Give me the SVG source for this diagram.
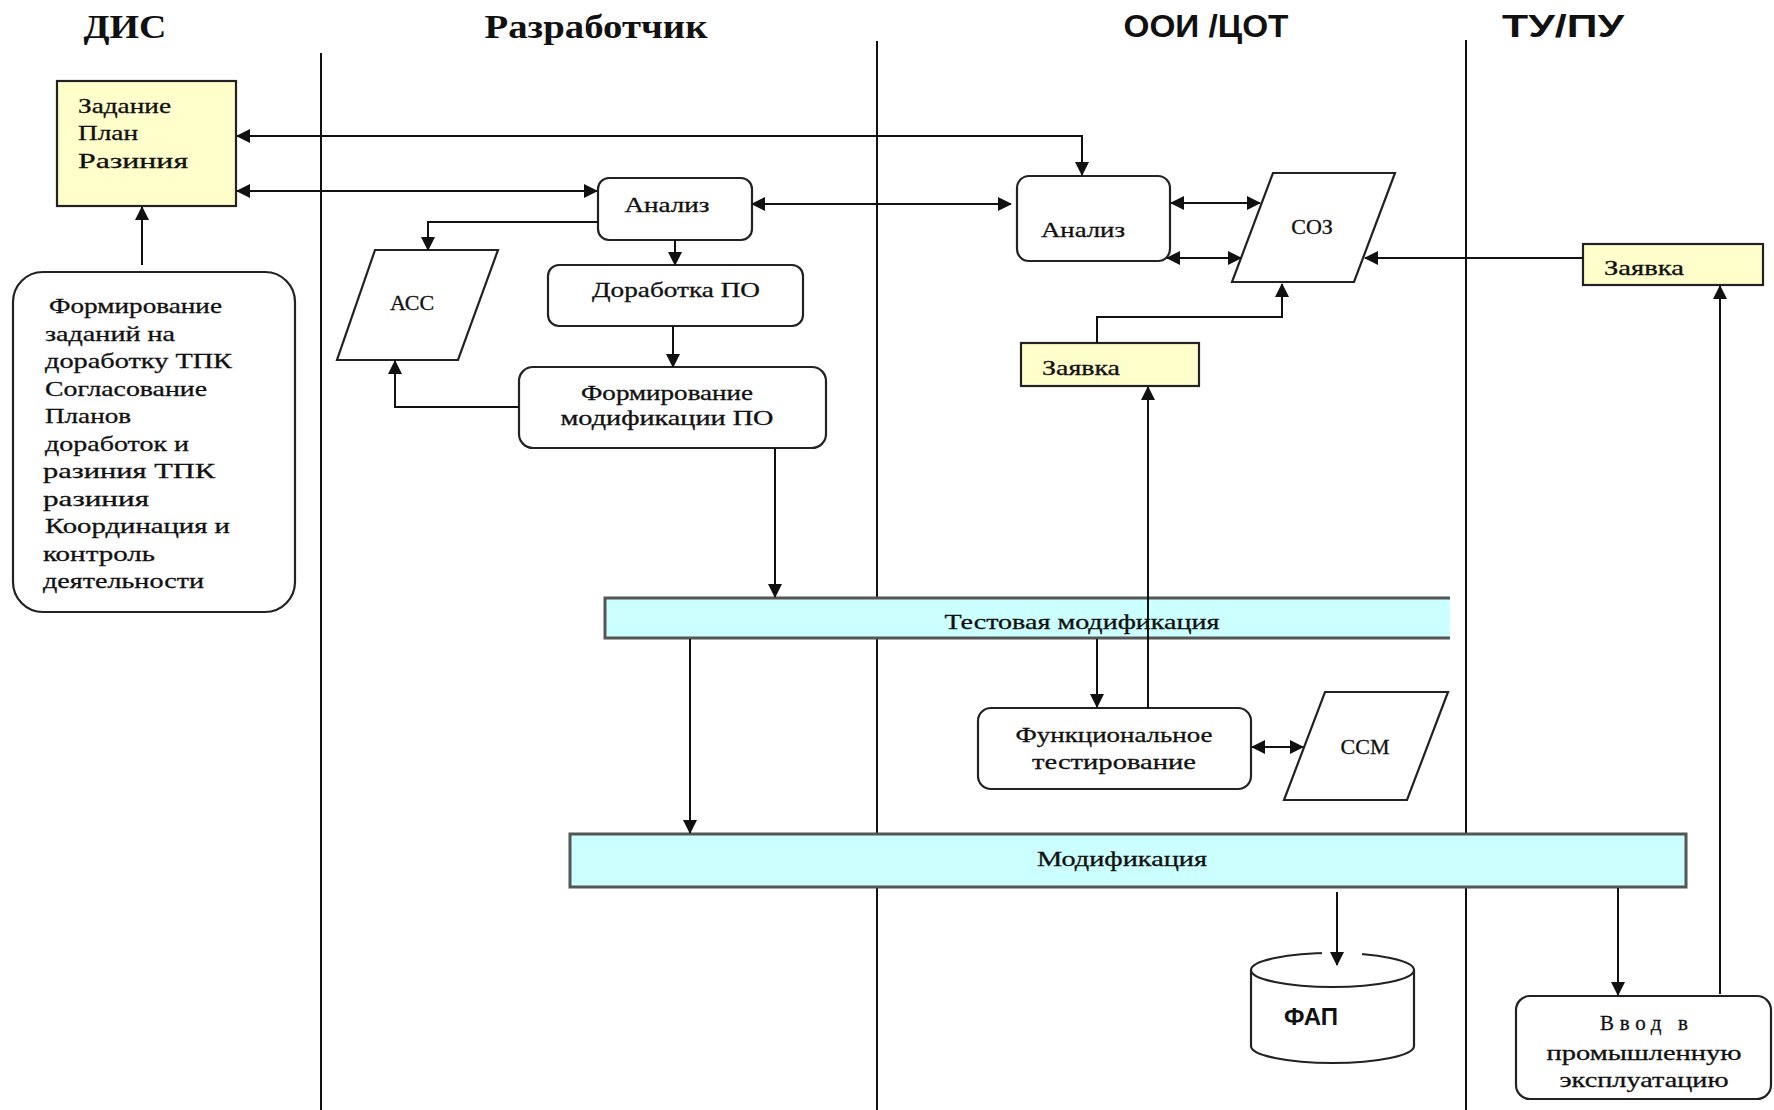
<svg xmlns="http://www.w3.org/2000/svg" width="1774" height="1110" viewBox="0 0 1774 1110">
<style>
.lane{stroke:#111;stroke-width:2;fill:none}
.box{fill:#fff;stroke:#222;stroke-width:2.2}
.yel{fill:#FFFFCC;stroke:#222;stroke-width:2.2}
.bar{fill:#CCFFFF;stroke:none}
.barb{fill:none;stroke:#555;stroke-width:3}
.t{font-family:"Liberation Serif","Times New Roman",serif;font-size:21px;fill:#111;stroke:#111;stroke-width:0.3}
.c{text-anchor:middle}
.ttl{font-family:"Liberation Serif","Times New Roman",serif;font-size:34px;font-weight:bold;fill:#111;text-anchor:middle}
.ttls{font-family:"Liberation Sans Narrow","Liberation Sans",Arial,sans-serif;font-size:31px;font-weight:bold;fill:#111;text-anchor:middle}
.con{fill:none;stroke:#111;stroke-width:2}
.a{marker-end:url(#arr)}
.aa{marker-start:url(#arr);marker-end:url(#arr)}
</style>
<defs>
<marker id="arr" viewBox="0 0 14 14" refX="13" refY="7" markerWidth="14" markerHeight="14" markerUnits="userSpaceOnUse" orient="auto-start-reverse">
<path d="M0,0 L14,7 L0,14 z" fill="#111"/>
</marker>
</defs>
<rect width="1774" height="1110" fill="#fff"/>

<g id="titles">
<text class="ttl" x="125" y="38" textLength="83" lengthAdjust="spacingAndGlyphs">ДИС</text>
<text class="ttl" x="596" y="38" textLength="223" lengthAdjust="spacingAndGlyphs">Разработчик</text>
<text class="ttls" x="1206" y="37" textLength="165" lengthAdjust="spacingAndGlyphs">ООИ /ЦОТ</text>
<text class="ttls" x="1563" y="37" textLength="122" lengthAdjust="spacingAndGlyphs">ТУ/ПУ</text>
</g>

<g id="lanes">
<line class="lane" x1="321" y1="53" x2="321" y2="1110"/>
<line class="lane" x1="877" y1="41" x2="877" y2="1110"/>
<line class="lane" x1="1466" y1="40" x2="1466" y2="1110"/>
</g>

<g id="zadanie">
<rect class="yel" x="57" y="81" width="179" height="125"/>
<text class="t" x="78" y="113" textLength="93" lengthAdjust="spacingAndGlyphs">Задание</text>
<text class="t" x="78" y="140" textLength="60" lengthAdjust="spacingAndGlyphs">План</text>
<text class="t" x="78" y="168" textLength="110" lengthAdjust="spacingAndGlyphs">Разиния</text>
</g>

<g id="formirovanie">
<rect class="box" x="13" y="272" width="282" height="340" rx="30"/>
<text class="t" x="49" y="313" textLength="173" lengthAdjust="spacingAndGlyphs">Формирование</text>
<text class="t" x="45" y="340.5" textLength="130" lengthAdjust="spacingAndGlyphs">заданий на</text>
<text class="t" x="45" y="368" textLength="187" lengthAdjust="spacingAndGlyphs">доработку ТПК</text>
<text class="t" x="45" y="395.5" textLength="162" lengthAdjust="spacingAndGlyphs">Согласование</text>
<text class="t" x="45" y="423" textLength="86" lengthAdjust="spacingAndGlyphs">Планов</text>
<text class="t" x="45" y="450.5" textLength="144" lengthAdjust="spacingAndGlyphs">доработок и</text>
<text class="t" x="43" y="478" textLength="172" lengthAdjust="spacingAndGlyphs">разиния ТПК</text>
<text class="t" x="43" y="505.5" textLength="106" lengthAdjust="spacingAndGlyphs">разиния</text>
<text class="t" x="45" y="533" textLength="185" lengthAdjust="spacingAndGlyphs">Координация и</text>
<text class="t" x="43" y="560.5" textLength="112" lengthAdjust="spacingAndGlyphs">контроль</text>
<text class="t" x="43" y="588" textLength="161" lengthAdjust="spacingAndGlyphs">деятельности</text>
</g>

<g id="analiz-razr">
<rect class="box" x="598" y="178" width="154" height="62" rx="11"/>
<text class="t c" x="667" y="212" textLength="85" lengthAdjust="spacingAndGlyphs">Анализ</text>
</g>

<g id="acc">
<polygon class="box" points="375,250 498,250 458,360 337,360"/>
<text class="t c" x="412" y="310" style="font-size:22px">АСС</text>
</g>

<g id="dorabotka">
<rect class="box" x="548" y="265" width="255" height="61" rx="11"/>
<text class="t c" x="676" y="297" textLength="168" lengthAdjust="spacingAndGlyphs">Доработка ПО</text>
</g>

<g id="form-mod">
<rect class="box" x="519" y="367" width="307" height="81" rx="14"/>
<text class="t c" x="667" y="400" textLength="172" lengthAdjust="spacingAndGlyphs">Формирование</text>
<text class="t c" x="667" y="425" textLength="213" lengthAdjust="spacingAndGlyphs">модификации ПО</text>
</g>

<g id="analiz-ooi">
<rect class="box" x="1017" y="176" width="153" height="85" rx="12"/>
<text class="t" x="1041" y="237" textLength="84" lengthAdjust="spacingAndGlyphs">Анализ</text>
</g>

<g id="soz">
<polygon class="box" points="1273,173 1395,173 1354,282 1232,282"/>
<text class="t c" x="1312" y="234" style="font-size:22px">СОЗ</text>
</g>

<g id="zayavka-tu">
<rect class="yel" x="1583" y="244" width="180" height="41"/>
<text class="t" x="1604" y="275" textLength="80" lengthAdjust="spacingAndGlyphs">Заявка</text>
</g>

<g id="zayavka-ooi">
<rect class="yel" x="1021" y="343" width="178" height="43"/>
<text class="t" x="1042" y="375" textLength="78" lengthAdjust="spacingAndGlyphs">Заявка</text>
</g>

<g id="test-mod">
<rect class="bar" x="605" y="598" width="845" height="40"/>
<path class="barb" d="M1450,598 H605 V638 H1450"/>
<text class="t c" x="1082" y="629" textLength="275" lengthAdjust="spacingAndGlyphs">Тестовая модификация</text>
</g>

<g id="func-test">
<rect class="box" x="978" y="708" width="273" height="81" rx="13"/>
<text class="t c" x="1114" y="742" textLength="197" lengthAdjust="spacingAndGlyphs">Функциональное</text>
<text class="t c" x="1114" y="769" textLength="164" lengthAdjust="spacingAndGlyphs">тестирование</text>
</g>

<g id="ssm">
<polygon class="box" points="1325,692 1448,692 1407,800 1284,800"/>
<text class="t c" x="1365" y="754" style="font-size:22px">ССМ</text>
</g>

<g id="modifikaciya">
<rect class="bar" x="570" y="834" width="1116" height="53"/>
<rect class="barb" x="570" y="834" width="1116" height="53"/>
<text class="t c" x="1122" y="866" textLength="170" lengthAdjust="spacingAndGlyphs">Модификация</text>
</g>

<g id="fap">
<path class="box" d="M1251,970 V1046 A81.5,17 0 0 0 1414,1046 V970"/>
<ellipse class="box" cx="1332.5" cy="970" rx="81.5" ry="17"/>
<rect x="1322" y="948" width="40" height="10" fill="#fff"/>
<text x="1311" y="1025" text-anchor="middle" style="font-family:'Liberation Sans',Arial,sans-serif;font-size:24px;font-weight:bold;fill:#111">ФАП</text>
</g>

<g id="vvod">
<rect class="box" x="1516" y="996" width="255" height="103" rx="14"/>
<text class="t c" x="1644" y="1030" textLength="88" lengthAdjust="spacing">Ввод в</text>
<text class="t c" x="1644" y="1060" textLength="195" lengthAdjust="spacingAndGlyphs">промышленную</text>
<text class="t c" x="1644" y="1087" textLength="169" lengthAdjust="spacingAndGlyphs">эксплуатацию</text>
</g>

<g id="connectors">
<path class="con aa" d="M237,136 H1082 V175"/>
<path class="con aa" d="M237,191 H597"/>
<path class="con a" d="M142,265 V207"/>
<path class="con aa" d="M752,204 H1011"/>
<path class="con a" d="M598,222 H428 V250"/>
<path class="con a" d="M675,240 V265"/>
<path class="con a" d="M673,326 V367"/>
<path class="con a" d="M519,407 H395 V361"/>
<path class="con a" d="M775,448 V597"/>
<path class="con a" d="M690,639 V833"/>
<path class="con a" d="M1097,639 V707"/>
<path class="con a" d="M1148,708 V387"/>
<path class="con a" d="M1097,343 V317 H1282 V284"/>
<path class="con aa" d="M1171,203 H1260"/>
<path class="con aa" d="M1167,258 H1241"/>
<path class="con a" d="M1583,258 H1365"/>
<path class="con aa" d="M1252,747 H1303"/>
<path class="con a" d="M1337,892 V965"/>
<path class="con a" d="M1618,888 V995"/>
<path class="con a" d="M1720,994 V286"/>
</g>
</svg>
